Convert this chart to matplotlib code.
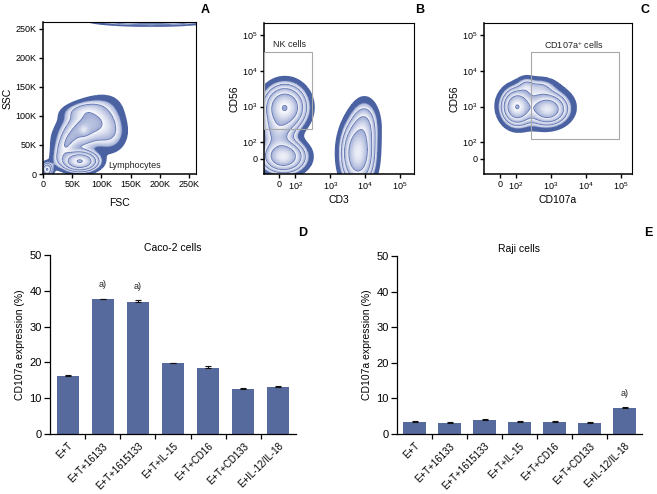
import numpy as np
import matplotlib
matplotlib.use('Agg')
import matplotlib.pyplot as plt
from matplotlib import scale as mscale
from matplotlib.colors import to_rgb, ListedColormap, BoundaryNorm
import matplotlib.patches as mpatches
import matplotlib.transforms as mtrans

FONT = ['Liberation Sans Narrow', 'Liberation Sans', 'DejaVu Sans']
plt.rcParams['font.family'] = FONT
plt.rcParams['mathtext.fontset'] = 'custom'
plt.rcParams['mathtext.rm'] = 'Liberation Sans'
plt.rcParams['mathtext.it'] = 'Liberation Sans:italic'
plt.rcParams['mathtext.bf'] = 'Liberation Sans:bold'

# ---------------- bar chart data ----------------
categories = ['E+T', 'E+T+16133', 'E+T+1615133', 'E+T+IL-15',
              'E+T+CD16', 'E+T+CD133', 'E+IL-12/IL-18']
caco2_values = [16.3, 37.6, 37.0, 19.8, 18.4, 12.7, 13.2]
caco2_errors = [0.25, 0.2, 0.4, 0.1, 0.7, 0.2, 0.1]
caco2_sig = [False, True, True, False, False, False, False]
raji_values = [3.5, 3.2, 3.9, 3.5, 3.5, 3.2, 7.3]
raji_errors = [0.15, 0.15, 0.45, 0.1, 0.1, 0.15, 0.15]
raji_sig = [False, False, False, False, False, False, True]
bar_yticks = [0, 10, 20, 30, 40, 50]

# ---------------- flow cytometry populations ----------------
# Panel A: FSC vs SSC (K units): centre x, centre y, sd x, sd y, correlation, weight
popA_x = [63, 74, 38, 114, 7, 185, 70, 66]
popA_y = [22, 82, 48, 72, 8, 264, 76, 110]
popA_sx = [16, 27, 12, 17, 5, 45, 5, 20]
popA_sy = [9, 24, 18, 20, 6, 4.0, 5, 9]
popA_r = [0.0, 0.45, 0.6, 0.0, 0.0, 0.0, 0.0, 0.3]
popA_w = [1.0, 0.30, 0.16, 0.12, 0.5, 0.5, 0.12, 0.10]
linear_ticks = [0, 50, 100, 150, 200, 250]
linear_ticklabels = ['0', '50K', '100K', '150K', '200K', '250K']

# Panel B: CD3 vs CD56 (biexponential display units, decades)
popB_x = [0.16, 0.12, -0.05, 2.25, 2.45]
popB_y = [1.44, 0.06, 0.75, 0.15, 0.95]
popB_sx = [0.32, 0.33, 0.28, 0.25, 0.22]
popB_sy = [0.33, 0.24, 0.32, 0.48, 0.38]
popB_r = [0.0, 0.0, 0.0, 0.0, 0.0]
popB_w = [1.0, 0.9, 0.30, 0.9, 0.25]

# Panel C: CD107a vs CD56 (biexponential display units, decades)
popC_x = [0.48, 1.38, 1.05, 1.15, 0.75]
popC_y = [1.45, 1.38, 1.50, 2.0, 2.05]
popC_sx = [0.22, 0.28, 0.52, 0.25, 0.15]
popC_sy = [0.26, 0.22, 0.34, 0.15, 0.15]
popC_r = [0.0, 0.0, 0.0, 0.0, 0.0]
popC_w = [1.0, 0.8, 0.25, 0.12, 0.12]

log_ticks = [0, 1e2, 1e3, 1e4, 1e5]
log_ticklabels = ['0', r'$\mathregular{10^{2}}$', r'$\mathregular{10^{3}}$',
                  r'$\mathregular{10^{4}}$', r'$\mathregular{10^{5}}$']

# gates (data units)
gateB = dict(x0=-95, x1=300, y0=230, y1=3.3e4)
gateC = dict(x0=265, x1=8.7e4, y0=126, y1=3.3e4)

BAR_COLOR = '#566A9E'
DARK = '#4A62A2'
MID = '#9DAAD3'
LIGHT = '#F7F8FC'
LINE = '#5B70AC'

LINTHRESH = 100
LINSCALE = 0.414


def mixture(TX, TY, cx, cy, sx, sy, r, w):
    Z = np.zeros_like(TX)
    for a, b, c, d, rho, e in zip(cx, cy, sx, sy, r, w):
        u = (TX - a) / c
        v = (TY - b) / d
        q = (u * u - 2 * rho * u * v + v * v) / (1 - rho * rho)
        Z += e * np.exp(-0.5 * q)
    return Z / Z.max()


def zebra(ax, X, Y, Z, L0=0.03, L1=0.055, ratio=2.0, nsub=24):
    levels = [L0]
    colors = [DARK]
    band_edges = []
    lo = L1
    c1 = np.array(to_rgb(MID))
    c2 = np.array(to_rgb(LIGHT))
    while lo < 0.999:
        band_edges.append(lo)
        hi = lo * ratio
        sub = np.geomspace(lo, hi, nsub + 1)[:-1]
        for i, s in enumerate(sub):
            if s >= 0.999:
                break
            levels.append(s)
            f = i / (nsub - 1)
            colors.append(tuple(c1 * (1 - f) + c2 * f))
        lo = hi
    levels.append(1.01)
    cmap = ListedColormap(colors)
    cmap.set_under((1, 1, 1, 0))
    cmap.set_over(colors[-1])
    norm = BoundaryNorm(levels, cmap.N)
    ax.pcolormesh(X, Y, Z, cmap=cmap, norm=norm, shading='auto', rasterized=True)
    ax.contour(X, Y, Z, levels=[L0], colors=DARK, linewidths=0.6)
    ax.contour(X, Y, Z, levels=band_edges, colors=LINE, linewidths=0.5)


fig = plt.figure(figsize=(6.57, 4.94), dpi=100)
W, H = 657.0, 494.0


def axes_px(l, t, r, b):
    return fig.add_axes([l / W, 1 - b / H, (r - l) / W, (b - t) / H])


def style_flow(ax):
    for s in ax.spines.values():
        s.set_linewidth(0.8)
    ax.spines['left'].set_linewidth(1.1)
    ax.spines['bottom'].set_linewidth(1.1)
    ax.tick_params(axis='both', which='major', direction='out', length=3,
                   width=1, labelsize=6.5, pad=1.5, top=False, right=False)
    ax.tick_params(axis='both', which='minor', length=0)


# ---------- Panel A ----------
axA = axes_px(43, 22, 196, 174)
xa = np.linspace(-2, 264, 500)
ya = np.linspace(-2, 266, 500)
XA, YA = np.meshgrid(xa, ya)
ZA = mixture(XA, YA, popA_x, popA_y, popA_sx, popA_sy, popA_r, popA_w)
zebra(axA, XA, YA, ZA, L0=0.025, L1=0.06, ratio=2.0)
axA.set_xlim(0, 262)
axA.set_ylim(0, 262)
axA.set_xticks(linear_ticks)
axA.set_xticklabels(linear_ticklabels)
axA.set_yticks(linear_ticks)
axA.set_yticklabels(linear_ticklabels)
style_flow(axA)
axA.set_xlabel('FSC', fontsize=7.5, labelpad=6)
axA.set_ylabel('SSC', fontsize=7.5, labelpad=2)
axA.text(112, 10, 'Lymphocytes', fontsize=6.5, color='#222222')

# ---------- biexponential helpers ----------
symT = mscale.SymmetricalLogTransform(10, LINTHRESH, LINSCALE)
symI = symT.inverted()


def to_t(v):
    v = np.atleast_1d(np.asarray(v, dtype=float)).reshape(-1, 1)
    return symT.transform(v)[:, 0] / LINTHRESH


def from_t(t):
    t = (np.atleast_1d(np.asarray(t, dtype=float)) * LINTHRESH).reshape(-1, 1)
    return symI.transform(t)[:, 0]


def flow_log_axes(ax, xlim, ylim, pops, L0, L1, ratio):
    tx = np.linspace(to_t(xlim[0])[0] - 0.05, to_t(xlim[1])[0] + 0.05, 420)
    ty = np.linspace(to_t(ylim[0])[0] - 0.05, to_t(ylim[1])[0] + 0.05, 420)
    TX, TY = np.meshgrid(tx, ty)
    Z = mixture(TX, TY, *pops)
    X, Y = np.meshgrid(from_t(tx), from_t(ty))
    ax.set_xscale('symlog', linthresh=LINTHRESH, linscale=LINSCALE)
    ax.set_yscale('symlog', linthresh=LINTHRESH, linscale=LINSCALE)
    zebra(ax, X, Y, Z, L0=L0, L1=L1, ratio=ratio)
    ax.set_xlim(*xlim)
    ax.set_ylim(*ylim)
    ax.set_xticks(log_ticks)
    ax.set_xticklabels(log_ticklabels)
    ax.set_yticks(log_ticks)
    ax.set_yticklabels(log_ticklabels)
    ax.xaxis.set_minor_locator(matplotlib.ticker.NullLocator())
    ax.yaxis.set_minor_locator(matplotlib.ticker.NullLocator())
    style_flow(ax)


# ---------- Panel B ----------
axB = axes_px(264, 23, 414, 174)
flow_log_axes(axB, (-95, 2.5e5), (-93, 2.2e5),
              (popB_x, popB_y, popB_sx, popB_sy, popB_r, popB_w), 0.03, 0.075, 1.9)
axB.add_patch(mpatches.Rectangle((gateB['x0'], gateB['y0']),
                                 gateB['x1'] - gateB['x0'], gateB['y1'] - gateB['y0'],
                                 fill=False, edgecolor='#A8A8A8', lw=0.8, zorder=5))
axB.text(-40, 5.5e4, 'NK cells', fontsize=6.5, color='#222222', va='center')
axB.set_xlabel('CD3', fontsize=7.5, labelpad=2)
axB.set_ylabel('CD56', fontsize=7.5, labelpad=2)

# ---------- Panel C ----------
axC = axes_px(484, 23, 632, 174)
flow_log_axes(axC, (-99, 2.06e5), (-93, 2.2e5),
              (popC_x, popC_y, popC_sx, popC_sy, popC_r, popC_w), 0.03, 0.075, 1.9)
axC.add_patch(mpatches.Rectangle((gateC['x0'], gateC['y0']),
                                 gateC['x1'] - gateC['x0'], gateC['y1'] - gateC['y0'],
                                 fill=False, edgecolor='#A8A8A8', lw=0.8, zorder=5))
axC.text(4.5e3, 5.2e4, r'CD107a$^{+}$ cells', fontsize=6.5, color='#222222',
         ha='center', va='center')
axC.set_xlabel('CD107a', fontsize=7.5, labelpad=2)
axC.set_ylabel('CD56', fontsize=7.5, labelpad=2)


# ---------- bar charts ----------
def bar_panel(ax, values, errors, sig, title):
    x = np.arange(len(categories))
    ax.bar(x, values, width=0.63, color=BAR_COLOR, zorder=2)
    ax.errorbar(x, values, yerr=[np.zeros(len(values)), errors], fmt='none',
                ecolor='#111111', elinewidth=0.8, capsize=2.5, capthick=0.8, zorder=3)
    for xi, v, e, s in zip(x, values, errors, sig):
        if s:
            ax.text(xi, v + e + 2.6, 'a)', fontsize=6.5, ha='center', va='bottom',
                    color='#222222')
    ax.set_xlim(-0.5, 6.5)
    ax.set_ylim(0, 50)
    ax.set_yticks(bar_yticks)
    ax.set_xticks(x)
    offset = mtrans.ScaledTranslation(5 / 100, 0, fig.dpi_scale_trans)
    ax.set_xticklabels(categories, rotation=45, ha='right', va='top',
                       rotation_mode='anchor', fontsize=7)
    for lab in ax.get_xticklabels():
        lab.set_transform(lab.get_transform() + offset)
    ax.set_xticks(np.arange(0.5, 6.0, 1.0), minor=True)
    ax.tick_params(axis='x', which='major', length=0, pad=5)
    ax.tick_params(axis='x', which='minor', length=3.5, width=0.9, direction='out')
    ax.tick_params(axis='y', which='major', length=4, width=0.9, direction='out',
                   labelsize=8, pad=2)
    for s in ['top', 'right']:
        ax.spines[s].set_visible(False)
    ax.spines['left'].set_linewidth(0.9)
    ax.spines['bottom'].set_linewidth(0.9)
    ax.set_ylabel('CD107a expression (%)', fontsize=7.5, labelpad=3)
    ax.set_title(title, fontsize=7.5, pad=3)


axD = axes_px(50, 255, 296, 434)
bar_panel(axD, caco2_values, caco2_errors, caco2_sig, 'Caco-2 cells')
axE = axes_px(397, 256, 642, 434)
bar_panel(axE, raji_values, raji_errors, raji_sig, 'Raji cells')

# ---------- panel letters ----------
for lab, (px, py) in zip('ABCDE', [(205, 10), (420, 10), (645, 10), (303, 233), (648, 233)]):
    fig.text(px / W, 1 - py / H, lab, fontsize=9, fontweight='bold', ha='center',
             va='center')

fig.savefig('out.png', dpi=100)
